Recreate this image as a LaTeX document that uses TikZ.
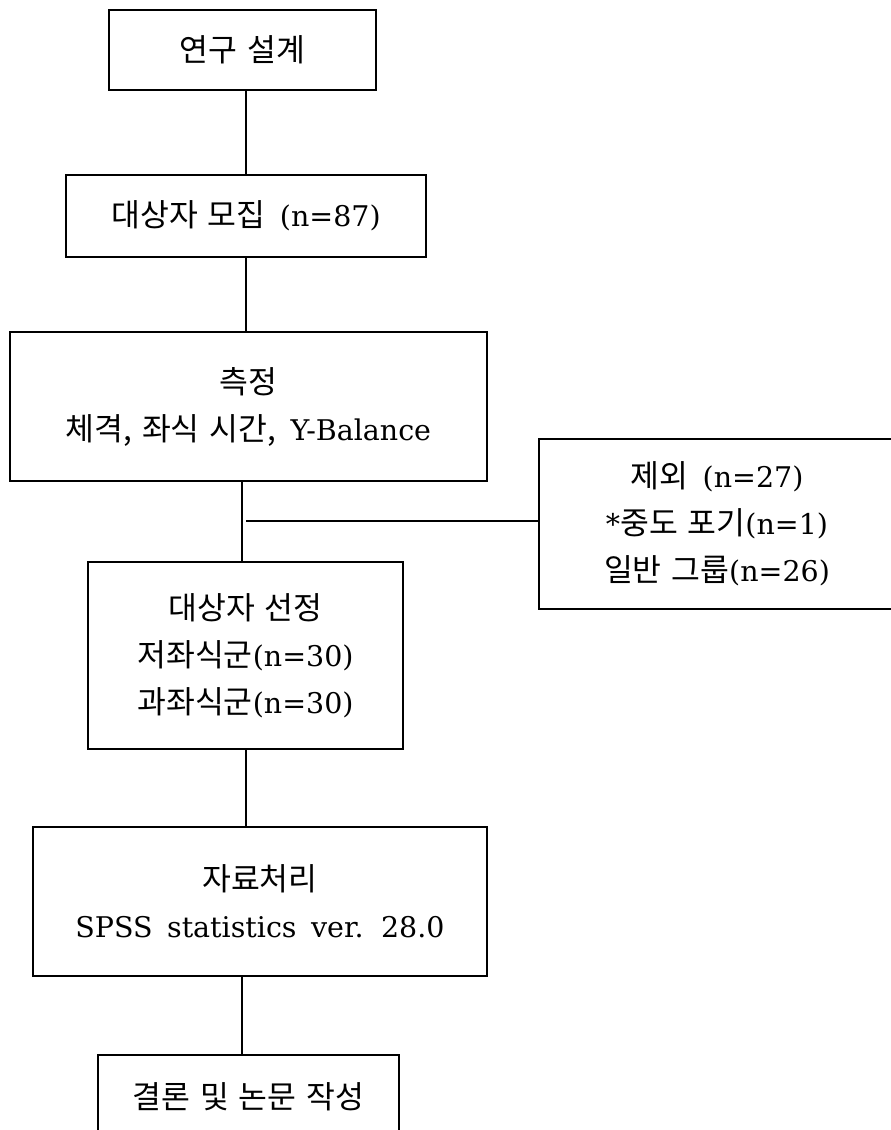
\documentclass[tikz,border=0pt]{standalone}
\usepackage{fontspec}
\setmainfont[WordSpace=1.6]{DejaVu Serif}
\newfontfamily\krfont[WordSpace=1.4,Scale=1.1]{Noto Sans CJK KR}
\newcommand{\hk}[1]{{\krfont #1}}
\begin{document}
\begin{tikzpicture}[x=1pt,y=-1pt,
  box/.style={draw, line width=1.4pt, align=center, inner sep=0pt,
    font=\fontsize{28.5}{47}\selectfont},
  link/.style={line width=1.4pt}]
\useasboundingbox (0,0) rectangle (891,1130);
\clip (0,0) rectangle (891,1130);
\node[box, minimum width=267pt, minimum height=80pt] (b1) at (242.5,50) {\hk{연구 설계}};
\node[box, minimum width=360pt, minimum height=82pt] (b2) at (246,216) {\hk{대상자 모집} (n=87)};
\node[box, minimum width=477pt, minimum height=149pt] (b3) at (248.5,406.5) {\hk{측정}\\\hk{체격, 좌식 시간,} Y-Balance};
\node[box, minimum width=356pt, minimum height=170pt] (b4) at (717,524) {\hk{제외} (n=27)\\{*}\hk{중도 포기}(n=1)\\\hk{일반 그룹}(n=26)};
\node[box, minimum width=315pt, minimum height=187pt] (b5) at (245.5,655.5) {\hk{대상자 선정}\\\hk{저좌식군}(n=30)\\\hk{과좌식군}(n=30)};
\node[box, minimum width=454pt, minimum height=149pt] (b6) at (260,901.5) {\hk{자료처리}\\SPSS statistics ver. 28.0};
\node[box, minimum width=301pt, minimum height=84pt] (b7) at (248.5,1097) {\hk{결론 및 논문 작성}};
\draw[link] (b2.north) -- (b2.north |- b1.south);
\draw[link] (b2.south) -- (b2.south |- b3.north);
\draw[link] ([xshift=-3.5pt]b5.north) -- ([xshift=-3.5pt]b5.north |- b3.south);
\draw[link] ([xshift=0.3pt]b5.south) -- ([xshift=0.3pt]b5.south |- b6.north);
\draw[link] ([xshift=-6.5pt]b7.north) -- ([xshift=-6.5pt]b7.north |- b6.south);
\coordinate (branch) at (246,521);
\draw[link] (branch) -- (branch -| b4.west);
\end{tikzpicture}
\end{document}
